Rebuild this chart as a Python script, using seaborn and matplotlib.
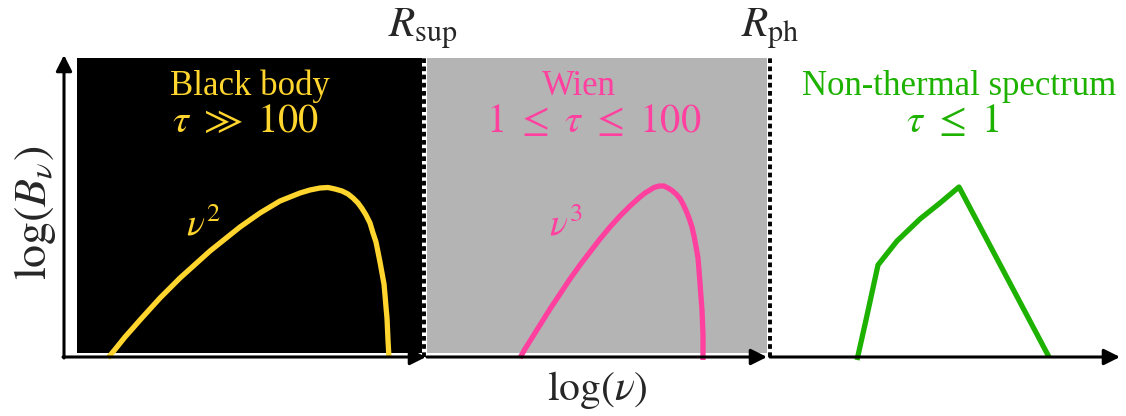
import matplotlib
matplotlib.use("Agg")
import matplotlib.pyplot as plt
from matplotlib.patches import Rectangle
import seaborn as sns
import pandas as pd

sns.set_theme(style="white")
plt.rcParams["font.family"] = ["Liberation Serif", "DejaVu Serif"]
plt.rcParams["mathtext.fontset"] = "stix"

# ---------------- data (schematic spectra) ----------------
# x: log(nu) in arbitrary units, y: log(B_nu) in arbitrary units
bb_x = [44, 53, 61, 69, 76, 86, 96, 106, 116, 126, 136, 146, 156, 166, 176, 186, 196, 206, 216, 226, 236,
        246, 256, 264, 271, 278, 284, 289, 294, 298, 302, 306, 309, 312, 314, 316, 318, 320, 321, 322, 323, 324, 325]
bb_y = [-1, 10, 20, 29, 37, 48, 59, 69, 79, 88, 97, 106, 114, 122, 130, 137, 144, 150, 156, 160, 164,
        167, 169, 169.5, 168, 166, 163, 159, 154, 148.5, 142, 134, 124, 115, 105, 95, 84, 73, 62, 50, 39, 17, -1]

wien_x = [456, 461, 466, 471, 476, 481, 486, 491, 496, 501, 506, 511, 516, 521, 526, 531, 536, 541, 546, 551,
          556, 561, 566, 571, 576, 581, 586, 590, 595, 600, 604, 608, 612, 616, 619, 622, 625, 628, 630, 632,
          634, 635, 636, 637, 638, 639, 639]
wien_y = [-1, 8, 16, 24, 32, 40, 48, 55.5, 63, 70.5, 78, 85, 92, 98.5, 105, 111.5, 118, 124, 130, 135.5,
          141, 146, 151, 155.5, 160, 164, 167, 169.5, 171, 171, 169, 166.5, 163, 158.5, 153, 146.5, 139, 130, 121, 110.5,
          99, 87, 74, 60, 47, 22, -3]

nt_x = [793, 802, 814, 833, 856, 876, 895, 985]
nt_y = [-3, 37, 92, 116, 138, 154, 170, 0]

regions = ["Black body", "Wien", "Non-thermal spectrum"]
region_tau = [r"$\tau\ \gg\ 100$", r"$1\ \leq\ \tau\ \leq\ 100$", r"$\tau\ \leq\ 1$"]
slope_labels = [r"$\nu^2$", r"$\nu^3$"]
radii = [r"$R_{\rm sup}$", r"$R_{\rm ph}$"]
radii_x = [360, 706]

# ---------------- figure ----------------
W, H = 1126, 416
fig = plt.figure(figsize=(W / 100, H / 100), dpi=100)
ax = fig.add_axes([64 / W, 59 / H, 1056 / W, 302 / H])
ax.set_xlim(0, 1056)
ax.set_ylim(0, 302)
ax.axis("off")

yellow = "#FFD52E"
pink = "#FF409F"
green = "#1DB100"

# backgrounds
ax.add_patch(Rectangle((13, 4), 345, 295, facecolor="black", edgecolor="none", zorder=0))
ax.add_patch(Rectangle((363, 4), 340, 295, facecolor="#B4B4B4", edgecolor="none", zorder=0))

# curves
df_bb = pd.DataFrame({"x": bb_x, "y": bb_y})
df_w = pd.DataFrame({"x": wien_x, "y": wien_y})
df_nt = pd.DataFrame({"x": nt_x, "y": nt_y})
for df, c in [(df_bb, yellow), (df_w, pink), (df_nt, green)]:
    sns.lineplot(data=df, x="x", y="y", sort=False, estimator=None, color=c,
                 linewidth=3.8, ax=ax, clip_on=False, zorder=3,
                 solid_joinstyle="round", solid_capstyle="butt")

# dotted boundaries
for xr in radii_x:
    ax.plot([xr, xr], [0, 299], color="black", linewidth=2.8,
            linestyle=(0, (1.2, 0.9)), clip_on=False, zorder=2)

# axes arrows
arrow_kw = dict(arrowstyle="-|>", lw=2.2, color="black", mutation_scale=24,
                shrinkA=0, shrinkB=0)
ax.annotate("", xy=(0, 302), xytext=(0, -1), arrowprops=arrow_kw, annotation_clip=False)
for x0, x1 in [(-1, 362), (363, 703), (706, 1056)]:
    ax.annotate("", xy=(x1, 0), xytext=(x0, 0), arrowprops=arrow_kw, annotation_clip=False)

# region labels
tx = [186, 515, 895]
tx2 = [181, 530, 889]
cols = [yellow, pink, green]
for i in range(3):
    ax.text(tx[i], 262, regions[i], color=cols[i], fontsize=25, ha="center", va="baseline")
    ax.text(tx2[i], 225, region_tau[i], color=cols[i], fontsize=29, ha="center", va="baseline")

ax.text(139, 132, slope_labels[0], color=yellow, fontsize=27, ha="center", va="center")
ax.text(502, 132, slope_labels[1], color=pink, fontsize=27, ha="center", va="center")

ax.text(324, 320, radii[0], fontsize=31, ha="left", va="baseline", clip_on=False)
ax.text(677, 320, radii[1], fontsize=31, ha="left", va="baseline", clip_on=False)

ax.text(533, -33, r"$\log(\nu)$", fontsize=30, ha="center", va="center", clip_on=False)
ax.text(-29, 144, r"$\log(B_\nu)$", fontsize=33, ha="center", va="center", rotation=90, clip_on=False)

fig.savefig("out.png", dpi=100)
